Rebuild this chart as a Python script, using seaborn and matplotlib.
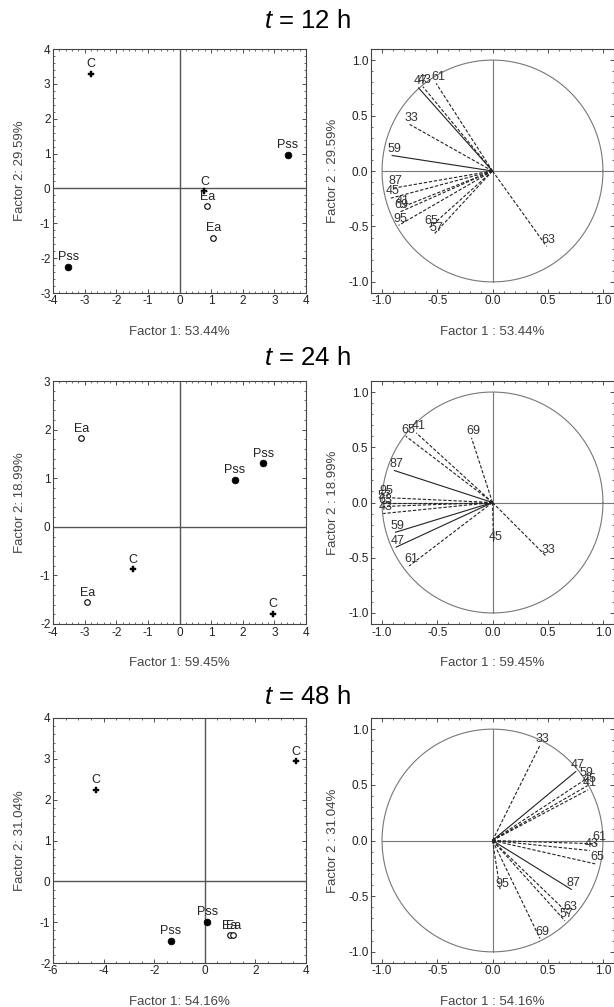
import numpy as np
import pandas as pd
import matplotlib
matplotlib.use("Agg")
import matplotlib.pyplot as plt
import seaborn as sns
from matplotlib.ticker import MultipleLocator, FormatStrFormatter


# ---- data ----
times = ["12", "24", "48"]
f1_pct = ["53.44", "59.45", "54.16"]
f2_pct = ["29.59", "18.99", "31.04"]

# score plots (left column)
groups_12 = ["C", "Pss", "C", "Ea", "Ea", "Pss"]
sx_12 = [-2.79, 3.43, 0.79, 0.88, 1.07, -3.51]
sy_12 = [3.29, 0.96, -0.08, -0.51, -1.42, -2.25]

groups_24 = ["Ea", "Pss", "Pss", "C", "Ea", "C"]
sx_24 = [-3.11, 2.65, 1.74, -1.46, -2.91, 2.96]
sy_24 = [1.82, 1.31, 0.97, -0.87, -1.55, -1.79]

groups_48 = ["C", "C", "Pss", "Pss", "Ea", "Ea"]
sx_48 = [-4.30, 3.60, 0.09, -1.34, 0.98, 1.12]
sy_48 = [2.24, 2.94, -0.99, -1.45, -1.32, -1.32]

# loading plots (right column)
vars_12 = ["61", "47", "43", "33", "59", "87", "45", "41", "69", "95", "65", "57", "63"]
lx_12 = [-0.51, -0.67, -0.63, -0.75, -0.91, -0.90, -0.92, -0.83, -0.84, -0.85, -0.57, -0.53, 0.49]
ly_12 = [0.79, 0.75, 0.76, 0.42, 0.14, -0.155, -0.245, -0.33, -0.37, -0.49, -0.51, -0.57, -0.68]
solid_12 = ["47", "59"]

vars_24 = ["65", "41", "69", "87", "95", "57", "63", "43", "59", "47", "61", "45", "33"]
lx_24 = [-0.785, -0.69, -0.19, -0.89, -0.98, -1.0, -0.99, -0.99, -0.88, -0.875, -0.755, 0.01, 0.49]
ly_24 = [0.60, 0.63, 0.585, 0.29, 0.045, 0.0, -0.036, -0.10, -0.27, -0.405, -0.575, -0.37, -0.49]
solid_24 = ["87", "59", "47"]

vars_48 = ["33", "47", "59", "45", "41", "61", "43", "65", "87", "95", "57", "63", "69"]
lx_48 = [0.43, 0.755, 0.836, 0.857, 0.865, 0.95, 0.88, 0.93, 0.715, 0.07, 0.655, 0.69, 0.43]
ly_48 = [0.855, 0.62, 0.545, 0.49, 0.455, -0.03, -0.09, -0.21, -0.44, -0.45, -0.72, -0.66, -0.88]
solid_48 = ["47", "87"]

scores = [(groups_12, sx_12, sy_12), (groups_24, sx_24, sy_24), (groups_48, sx_48, sy_48)]
loadings = [(vars_12, lx_12, ly_12, solid_12),
            (vars_24, lx_24, ly_24, solid_24),
            (vars_48, lx_48, ly_48, solid_48)]
score_lims = [((-4, 4), (-3, 4), 1), ((-4, 4), (-2, 3), 1), ((-6, 4), (-2, 4), 2)]

sns.set_style("ticks")
plt.rcParams["font.family"] = ["Liberation Sans", "DejaVu Sans"]
plt.rcParams["mathtext.fontset"] = "custom"
plt.rcParams["mathtext.it"] = "Liberation Sans:italic"
plt.rcParams["mathtext.rm"] = "Liberation Sans"
plt.rcParams["axes.unicode_minus"] = False

fig = plt.figure(figsize=(6.14, 10.07), dpi=100)
W, H = 614.0, 1007.0
rows_px = [(49, 293), (381, 624), (718, 963)]
title_y = [21, 358, 697]

marker_style = {
    "C": dict(marker="P", color="black", edgecolor="black", s=18, linewidth=0.3),
    "Pss": dict(marker="o", color="black", edgecolor="black", s=24, linewidth=0.5),
    "Ea": dict(marker="o", color="white", edgecolor="black", s=16, linewidth=0.8),
}


def style_axes(ax, major, minor):
    ax.xaxis.set_major_locator(MultipleLocator(major[0]))
    ax.yaxis.set_major_locator(MultipleLocator(major[1]))
    ax.xaxis.set_minor_locator(MultipleLocator(minor[0]))
    ax.yaxis.set_minor_locator(MultipleLocator(minor[1]))
    ax.tick_params(which="both", direction="in", top=True, right=True,
                   colors="#333333", labelcolor="#222222")
    ax.tick_params(which="major", length=3, width=0.6, labelsize=8.5, pad=1.8)
    ax.tick_params(which="minor", length=1.6, width=0.5)
    for sp in ax.spines.values():
        sp.set_color("#444444")
        sp.set_linewidth(0.8)
    ax.grid(False)


for i in range(3):
    top, bot = rows_px[i]
    axL = fig.add_axes([53 / W, 1 - bot / H, 253 / W, (bot - top) / H])
    axR = fig.add_axes([371 / W, 1 - bot / H, 243 / W, (bot - top) / H])

    # ---- scores ----
    g, sx, sy = scores[i]
    df = pd.DataFrame({"group": g, "x": sx, "y": sy})
    (xl, yl, xstep) = score_lims[i]
    axL.axhline(0, color="#555555", lw=1.0, zorder=1)
    axL.axvline(0, color="#555555", lw=1.0, zorder=1)
    for name, sub in df.groupby("group"):
        sns.scatterplot(data=sub, x="x", y="y", ax=axL, zorder=3, legend=False,
                        **marker_style[name])
    for _, r in df.iterrows():
        axL.annotate(r["group"], (r["x"], r["y"]), xytext=(0, 2.5),
                     textcoords="offset points", ha="center", va="bottom",
                     fontsize=9, color="#222222")
    axL.set_xlim(*xl)
    axL.set_ylim(*yl)
    style_axes(axL, (xstep, 1), (xstep / 4 if xstep == 2 else 0.2, 0.2))
    axL.set_xlabel("Factor 1: %s%%" % f1_pct[i], fontsize=9.5, color="#444444")
    axL.set_ylabel("Factor 2: %s%%" % f2_pct[i], fontsize=9.5, color="#444444")
    axL.xaxis.set_label_coords(0.5, -0.135)
    axL.yaxis.set_label_coords(-0.105, 0.5)

    # ---- loadings ----
    names, lx, ly, solid = loadings[i]
    th = np.linspace(0, 2 * np.pi, 400)
    sns.lineplot(x=np.cos(th), y=np.sin(th), sort=False, estimator=None,
                 errorbar=None, ax=axR, color="#777777", lw=0.8, zorder=1)
    axR.plot([-1, 1.1], [0, 0], color="#777777", lw=0.8, zorder=1)
    axR.plot([0, 0], [-1, 1], color="#777777", lw=0.8, zorder=1)
    for n, x, y in zip(names, lx, ly):
        if n in solid:
            axR.plot([0, x], [0, y], color="#222222", lw=0.8, zorder=2)
        else:
            axR.plot([0, x], [0, y], color="#222222", lw=0.8, zorder=2,
                     dashes=(3, 1.6))
        axR.annotate(n, (x, y), xytext=(1.5, 0.5), textcoords="offset points",
                     ha="center", va="bottom", fontsize=9, color="#333333")
    axR.set_xlim(-1.1, 1.1)
    axR.set_ylim(-1.1, 1.1)
    style_axes(axR, (0.5, 0.5), (0.1, 0.1))
    axR.xaxis.set_major_formatter(FormatStrFormatter("%.1f"))
    axR.yaxis.set_major_formatter(FormatStrFormatter("%.1f"))
    axR.set_xlabel("Factor 1 : %s%%" % f1_pct[i], fontsize=9.5, color="#444444")
    axR.set_ylabel("Factor 2 : %s%%" % f2_pct[i], fontsize=9.5, color="#444444")
    axR.xaxis.set_label_coords(0.5, -0.135)
    axR.yaxis.set_label_coords(-0.13, 0.5)

    fig.text(0.5, 1 - title_y[i] / H, r"$t$ = %s h" % times[i], ha="center",
             va="center", fontsize=18.5, color="black")

fig.savefig("out.png", dpi=100)
